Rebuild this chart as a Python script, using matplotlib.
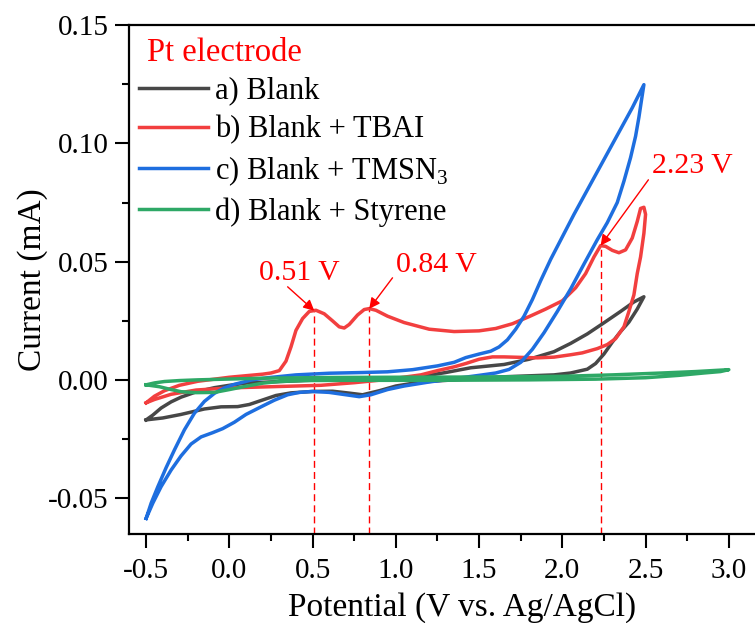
import matplotlib
matplotlib.use("Agg")
import matplotlib.pyplot as plt
from matplotlib.ticker import MultipleLocator, FormatStrFormatter

plt.rcParams['font.family'] = ['Liberation Serif', 'DejaVu Serif']
plt.rcParams['mathtext.fontset'] = 'custom'
plt.rcParams['mathtext.rm'] = 'Liberation Serif'
plt.rcParams['axes.unicode_minus'] = False

# closed CV loops: potential (V vs. Ag/AgCl) and current (mA)
# a) Blank
blank_x = [-0.5, -0.46, -0.41, -0.35, -0.29, -0.2, -0.09, 0.0, 0.11, 0.31, 0.55, 0.95, 1.15, 1.3, 1.45,
           1.65, 1.8, 1.95, 2.05, 2.15, 2.25, 2.35, 2.43, 2.49,
           2.45, 2.4, 2.35, 2.3, 2.25, 2.2, 2.15, 2.05, 1.95, 1.8, 1.65, 1.5, 1.35, 1.15, 1.0, 0.9, 0.8,
           0.72, 0.62, 0.5, 0.37, 0.28, 0.2, 0.12, 0.05, -0.05, -0.15, -0.29, -0.4, -0.5]
blank_y = [-0.0168, -0.0148, -0.0118, -0.0092, -0.0072, -0.0050, -0.0032, -0.0022, -0.0012, -0.0006,
           0.0001, 0.0002, 0.0015, 0.0032, 0.0052, 0.0066, 0.0088, 0.0120, 0.0155, 0.0195, 0.0242,
           0.0290, 0.0330, 0.0352,
           0.0300, 0.0245, 0.0205, 0.0160, 0.0110, 0.0070, 0.0046, 0.0030, 0.0022, 0.0018, 0.0014,
           0.0008, 0.0001, -0.0008, -0.0025, -0.0045, -0.0062, -0.0055, -0.0047, -0.0048, -0.0054,
           -0.0065, -0.0084, -0.0103, -0.0112, -0.0113, -0.0122, -0.0145, -0.0160, -0.0168]

# b) Blank + TBAI
tbai_x = [-0.5, -0.45, -0.39, -0.3, -0.19, 0.0, 0.2, 0.25, 0.3, 0.34, 0.37, 0.4, 0.44, 0.48, 0.52, 0.57,
          0.62, 0.66, 0.69, 0.72, 0.77, 0.81, 0.84, 0.88, 0.95, 1.05, 1.2, 1.35, 1.5, 1.6, 1.7, 1.8, 1.9,
          2.0, 2.08, 2.14, 2.19, 2.23, 2.26, 2.3, 2.34, 2.38, 2.42, 2.45, 2.47, 2.49,
          2.5, 2.49, 2.47, 2.45, 2.43, 2.4, 2.37, 2.32, 2.27, 2.21, 2.12, 2.05, 1.95, 1.85, 1.75, 1.65,
          1.58, 1.5, 1.42, 1.35, 1.25, 1.15, 0.95, 0.75, 0.55, 0.3, 0.0, -0.2, -0.35, -0.45, -0.5]
tbai_y = [-0.0096, -0.0068, -0.0045, -0.0022, -0.0005, 0.0012, 0.0025, 0.0030, 0.0040, 0.0080, 0.0140,
          0.0210, 0.0260, 0.0290, 0.0295, 0.0280, 0.0250, 0.0225, 0.0220, 0.0235, 0.0275, 0.0298,
          0.0302, 0.0295, 0.0270, 0.0243, 0.0215, 0.0205, 0.0208, 0.0218, 0.0238, 0.0268, 0.0300,
          0.0335, 0.0390, 0.0450, 0.0520, 0.0568, 0.0565, 0.0548, 0.0538, 0.0550, 0.0600, 0.0670,
          0.0725, 0.0730,
          0.0700, 0.0620, 0.0520, 0.0450, 0.0360, 0.0290, 0.0225, 0.0175, 0.0150, 0.0133, 0.0115,
          0.0107, 0.0097, 0.0094, 0.0096, 0.0098, 0.0098, 0.0088, 0.0070, 0.0056, 0.0040, 0.0022,
          0.0003, -0.0011, -0.0022, -0.0027, -0.0033, -0.0042, -0.0060, -0.0082, -0.0096]

# c) Blank + TMSN3
tmsn_x = [-0.5, -0.47, -0.43, -0.38, -0.33, -0.27, -0.21, -0.15, -0.09, -0.03, 0.03, 0.13, 0.23, 0.4, 0.6,
          0.8, 0.95, 1.1, 1.25, 1.35, 1.42, 1.5, 1.57, 1.62, 1.67, 1.72, 1.77, 1.82, 1.87, 1.93, 2.0, 2.07,
          2.14, 2.21, 2.28, 2.35, 2.42, 2.49,
          2.475, 2.46, 2.44, 2.41, 2.37, 2.33, 2.27, 2.21, 2.13, 2.05, 1.97, 1.89, 1.82, 1.75, 1.68, 1.6,
          1.5, 1.35, 1.2, 1.05, 0.95, 0.85, 0.78, 0.7, 0.6, 0.5, 0.42, 0.35, 0.27, 0.19, 0.1, 0.03, -0.04,
          -0.1, -0.17, -0.23, -0.29, -0.35, -0.41, -0.46, -0.5]
tmsn_y = [-0.0584, -0.0520, -0.0451, -0.0370, -0.0295, -0.0210, -0.0140, -0.0090, -0.0056, -0.0033,
          -0.0018, 0.0000, 0.0010, 0.0022, 0.0029, 0.0032, 0.0035, 0.0044, 0.0060, 0.0075, 0.0095,
          0.0110, 0.0122, 0.0140, 0.0170, 0.0215, 0.0270, 0.0340, 0.0420, 0.0510, 0.0605, 0.0700,
          0.0790, 0.0880, 0.0970, 0.1060, 0.1150, 0.1248,
          0.1180, 0.1110, 0.1030, 0.0940, 0.0840, 0.0750, 0.0665, 0.0593, 0.0490, 0.0385, 0.0290,
          0.0200, 0.0130, 0.0075, 0.0045, 0.0030, 0.0020, 0.0006, -0.0008, -0.0025, -0.0040, -0.0062,
          -0.0070, -0.0062, -0.0052, -0.0048, -0.0052, -0.0062, -0.0085, -0.0113, -0.0145, -0.0178,
          -0.0205, -0.0222, -0.0240, -0.0270, -0.0320, -0.0380, -0.0450, -0.0520, -0.0584]

# d) Blank + Styrene
sty_x = [-0.5, -0.45, -0.39, -0.3, -0.19, 0.2, 0.6, 1.0, 1.5, 2.0, 2.3, 2.6, 2.8, 2.95, 3.0,
         2.95, 2.85, 2.7, 2.5, 2.2, 1.8, 1.2, 0.7, 0.45, 0.3, 0.2, 0.1, 0.0, -0.09, -0.2, -0.29, -0.35,
         -0.42, -0.5]
sty_y = [-0.0020, -0.0012, -0.0006, -0.0002, 0.0001, 0.0008, 0.0011, 0.0012, 0.0013, 0.0016, 0.0022,
         0.0030, 0.0036, 0.0042, 0.0044,
         0.0036, 0.0030, 0.0020, 0.0010, 0.0004, 0.0001, -0.0001, -0.0001, -0.0002, -0.0006, -0.0013,
         -0.0026, -0.0040, -0.0052, -0.0053, -0.0049, -0.0040, -0.0028, -0.0020]

series = [(blank_x, blank_y, '#474747', 'a) Blank'),
          (tbai_x, tbai_y, '#f23f3f', 'b) Blank + TBAI'),
          (tmsn_x, tmsn_y, '#1e6edf', r'c) Blank + TMSN$_\mathregular{3}$'),
          (sty_x, sty_y, '#2ea866', 'd) Blank + Styrene')]

# marked oxidation peaks
peak_x = [0.51, 0.84, 2.23]
peak_y = [0.0293, 0.0301, 0.0568]
peak_labels = ['0.51 V', '0.84 V', '2.23 V']
label_pos = [(0.42, 0.0453), (1.245, 0.0487), (2.78, 0.0905)]
arrow_tail = [(0.35, 0.0394), (0.98, 0.0432), (2.517, 0.0846)]

fig = plt.figure(figsize=(7.55, 6.23), dpi=100)
ax = fig.add_axes([0.1715, 0.1429, 0.882, 0.817])

for i in range(3):
    ax.vlines(peak_x[i], -0.065, peak_y[i], colors='red', linestyles=(0, (5, 3)), linewidth=1.0, zorder=1)

for x, y, c, lab in series:
    ax.plot(x, y, color=c, lw=2.5, label=lab, solid_joinstyle='round', zorder=2)

for i in range(3):
    ax.text(label_pos[i][0], label_pos[i][1], peak_labels[i], color='red', fontsize=21.5,
            ha='center', va='center')
    ax.annotate('', xy=(peak_x[i], peak_y[i]), xytext=arrow_tail[i],
                arrowprops=dict(arrowstyle='-|>', color='red', lw=1.0, mutation_scale=16,
                                shrinkA=0, shrinkB=0))

ax.set_xlim(-0.6, 3.4)
ax.set_ylim(-0.065, 0.15)
ax.xaxis.set_major_locator(MultipleLocator(0.5))
ax.xaxis.set_minor_locator(MultipleLocator(0.25))
ax.yaxis.set_major_locator(MultipleLocator(0.05))
ax.yaxis.set_minor_locator(MultipleLocator(0.025))
ax.xaxis.set_major_formatter(FormatStrFormatter('%.1f'))
ax.yaxis.set_major_formatter(FormatStrFormatter('%.2f'))
ax.tick_params(which='major', direction='out', length=10, width=1.5, labelsize=21, pad=5)
ax.tick_params(which='minor', direction='out', length=5, width=1.5)
ax.tick_params(axis='x', which='major', pad=7)
for s in ax.spines.values():
    s.set_linewidth(1.6)

ax.set_xlabel('Potential (V vs. Ag/AgCl)', fontsize=24, labelpad=6)
ax.set_ylabel('Current (mA)', fontsize=24, labelpad=0)

ax.text(0.026, 0.945, 'Pt electrode', color='red', fontsize=23.5, ha='left', va='center',
        transform=ax.transAxes)
ax.legend(loc='upper left', bbox_to_anchor=(0.0143, 0.899), frameon=False, fontsize=22,
          handlelength=2.25, handletextpad=0.25, labelspacing=0.32, borderaxespad=0.0, borderpad=0.0)

fig.savefig('out.png', dpi=100)
